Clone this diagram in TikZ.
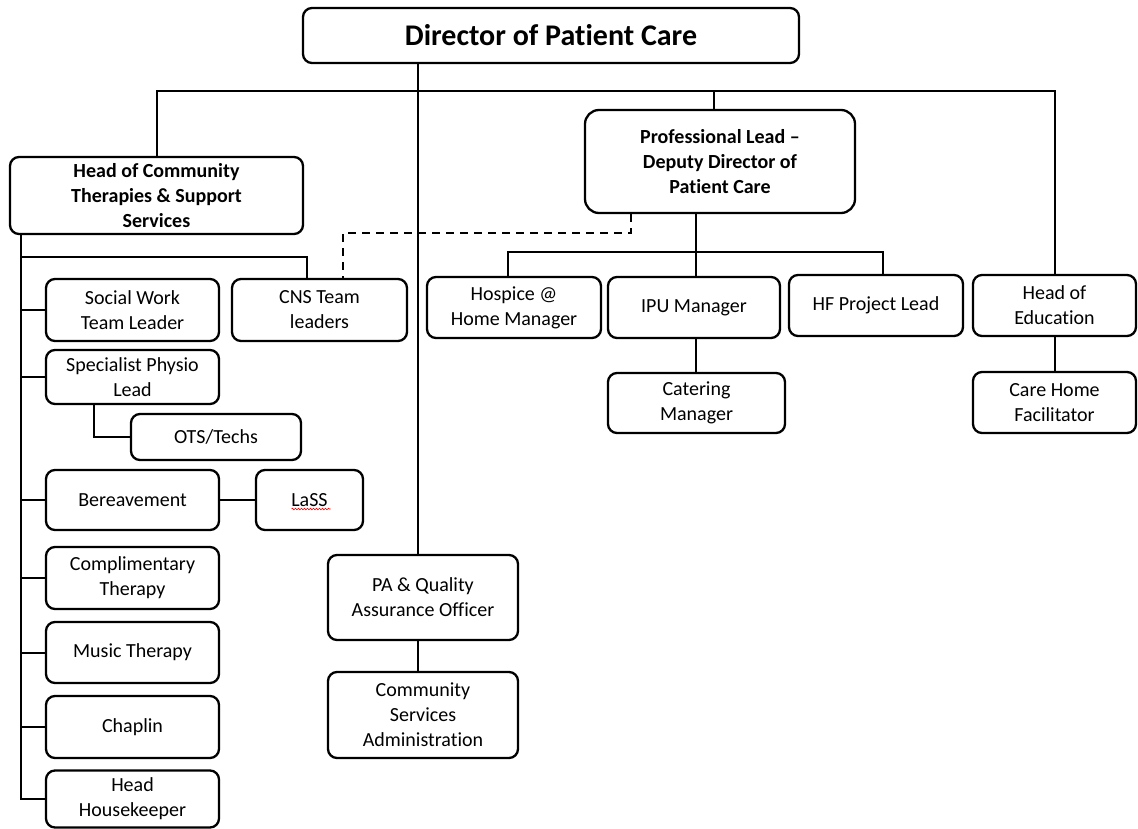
\documentclass[tikz,border=0pt]{standalone}
\usepackage{fontspec}
\setmainfont{Carlito}[Ligatures=NoCommon]
\usetikzlibrary{decorations.pathmorphing}
\begin{document}
\begin{tikzpicture}[x=1pt,y=-1pt,
  box/.style={draw, line width=2.3pt, rounded corners=9pt, align=center, inner sep=0pt,
    font=\fontsize{20}{25}\selectfont},
  bbox/.style={box, font=\fontsize{20}{25}\selectfont\bfseries},
  link/.style={line width=2pt},
  dlink/.style={line width=2pt, dash pattern=on 8pt off 6pt}]
\useasboundingbox (0,0) rectangle (1138,829);
% top level
\node[bbox, minimum width=496pt, minimum height=55pt, font=\fontsize{30}{36}\selectfont\bfseries] (dir) at (551,35.5) {Director of Patient Care};
\node[bbox, minimum width=293pt, minimum height=77pt] (hcs) at (156.5,195.5) {Head of Community\\Therapies \& Support\\Services};
\node[bbox, minimum width=270pt, minimum height=103pt, rounded corners=14pt] (pl) at (720,161.5) {Professional Lead –\\Deputy Director of\\Patient Care};
% left column
\node[box, minimum width=173pt, minimum height=62pt] (sw) at (132.5,310) {Social Work\\Team Leader};
\node[box, minimum width=175pt, minimum height=62pt] (cns) at (319.5,310) {CNS Team\\leaders};
\node[box, minimum width=173pt, minimum height=54pt] (sp) at (132.5,377) {Specialist Physio\\Lead};
\node[box, minimum width=170pt, minimum height=46pt] (ots) at (216,437) {OTS/Techs};
\node[box, minimum width=173pt, minimum height=60pt] (ber) at (132.5,500) {Bereavement};
\node[box, minimum width=107pt, minimum height=60pt] (lass) at (309.5,500) {LaSS};
\node[box, minimum width=173pt, minimum height=62pt] (ct) at (132.5,578) {Complimentary\\Therapy};
\node[box, minimum width=173pt, minimum height=61pt] (mt) at (132.5,652.5) {Music Therapy};
\node[box, minimum width=173pt, minimum height=62pt] (ch) at (132.5,727) {Chaplin};
\node[box, minimum width=173pt, minimum height=57pt] (hh) at (132.5,799) {Head\\Housekeeper};
% middle
\node[box, minimum width=190pt, minimum height=85pt] (pa) at (423,597.5) {PA \& Quality\\Assurance Officer};
\node[box, minimum width=190pt, minimum height=86pt] (csa) at (423,715) {Community\\Services\\Administration};
% right
\node[box, minimum width=174pt, minimum height=61pt] (hos) at (514,307.5) {Hospice @\\Home Manager};
\node[box, minimum width=172pt, minimum height=61pt] (ipu) at (694,307.5) {IPU Manager};
\node[box, minimum width=174pt, minimum height=61pt] (hf) at (876,305.5) {HF Project Lead};
\node[box, minimum width=163pt, minimum height=61pt] (he) at (1054.5,305.5) {Head of\\Education};
\node[box, minimum width=177pt, minimum height=60pt] (cat) at (696.5,403) {Catering\\Manager};
\node[box, minimum width=163pt, minimum height=61pt] (chf) at (1054.5,402.5) {Care Home\\Facilitator};
% spell-check squiggle
\draw[red, line width=0.6pt, decorate, decoration={snake, amplitude=0.8pt, segment length=3pt}]
  ([xshift=-18pt,yshift=-9pt]lass.center) -- ([xshift=21pt,yshift=-9pt]lass.center);
% junction coordinates
\coordinate (bus) at (418,91);
\coordinate (plc) at (714,91);
\coordinate (pbus) at (696,252);
\coordinate (hosc) at (508,252);
\coordinate (hfc) at (883,252);
\coordinate (d1) at (631,233);
\coordinate (d2) at (343,233);
\coordinate (lbus) at (21,257);
\coordinate (cnsc) at (307,257);
\coordinate (otsc) at (94,437);
% connectors
\draw[link] (hcs.north) |- (bus) -| (he.north);
\draw[link] (dir.south -| bus) -- (pa.north -| bus);
\draw[link] (plc) -- (pl.north -| plc);
\draw[link] (pl.south -| pbus) -- (ipu.north -| pbus);
\draw[link] (hos.north -| hosc) -- (hosc) -- (hfc) -- (hf.north -| hfc);
\draw[link] (ipu.south -| pbus) -- (cat.north -| pbus);
\draw[link] (he.south) -- (chf.north);
\draw[link] (pa.south -| bus) -- (csa.north -| bus);
\draw[dlink] (pl.south -| d1) -- (d1) -- (d2) -- (cns.north -| d2);
\draw[link] (hcs.south -| lbus) -- (hh.west -| lbus) -- (hh.west);
\draw[link] (lbus) -- (cnsc) -- (cns.north -| cnsc);
\draw[link] (sw.west -| lbus) -- (sw.west);
\draw[link] (sp.west -| lbus) -- (sp.west);
\draw[link] (ber.west -| lbus) -- (ber.west);
\draw[link] (ct.west -| lbus) -- (ct.west);
\draw[link] (mt.west -| lbus) -- (mt.west);
\draw[link] (ch.west -| lbus) -- (ch.west);
\draw[link] (sp.south -| otsc) |- (ots.west);
\draw[link] (ber.east) -- (lass.west);
\end{tikzpicture}
\end{document}
